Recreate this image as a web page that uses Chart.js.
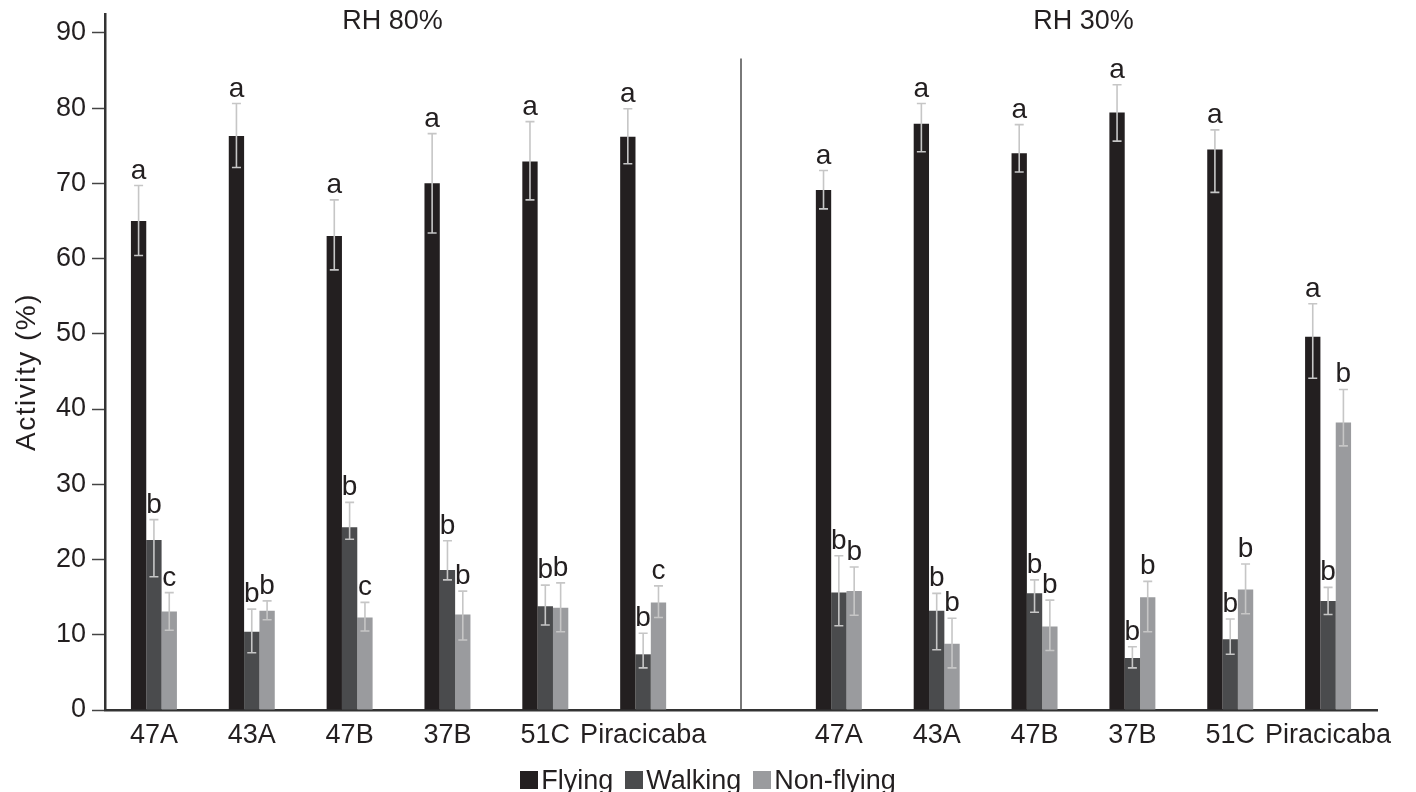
<!DOCTYPE html>
<html>
<head>
<meta charset="utf-8">
<script src="https://cdn.jsdelivr.net/npm/chart.js@4.4.0/dist/chart.umd.min.js"></script>
<style>
  html, body { margin: 0; padding: 0; background: #ffffff; }
  #wrap { position: relative; width: 1416px; height: 792px; }
  #legend { position: absolute; left: 0; width: 1416px; top: 765px; text-align: center;
            font-family: "Liberation Sans", Arial, sans-serif; font-size: 27px; color: #231f20; line-height: 30px; }
  #legend span.item { margin: 0 6px; white-space: nowrap; }
  #legend span.box { display: inline-block; width: 18px; height: 18px; margin-right: 3px; vertical-align: baseline; }
</style>
</head>
<body>
<div id="wrap">
  <canvas id="c" width="1416" height="792"></canvas>
  <div id="legend"></div>
</div>
<script>
// ---------- data ----------
const categories = ['47A','43A','47B','37B','51C','Piracicaba','','47A','43A','47B','37B','51C','Piracicaba'];
const groupTitles = ['RH 80%', 'RH 30%'];
const seriesNames = ['Flying', 'Walking', 'Non-flying'];
const yTitle = 'Activity (%)';

const flying      = [65.0, 76.3, 63.0, 70.0, 72.9, 76.2, null, 69.1, 77.9, 74.0, 79.4, 74.5, 49.6];
const flyingHigh  = [69.7, 80.6, 67.8, 76.6, 78.2, 79.9, null, 71.7, 80.6, 77.8, 83.1, 77.1, 54.0];
const flyingLow   = [60.4, 72.1, 58.5, 63.4, 67.8, 72.6, null, 66.6, 74.2, 71.5, 75.6, 68.8, 44.1];
const flyingLet   = ['a','a','a','a','a','a', null, 'a','a','a','a','a','a'];

const walking     = [22.6, 10.4, 24.3, 18.6, 13.8, 7.4, null, 15.6, 13.2, 15.5, 6.9, 9.4, 14.5];
const walkingHigh = [25.3, 13.4, 27.6, 22.5, 16.6, 10.2, null, 20.5, 15.5, 17.3, 8.4, 12.1, 16.3];
const walkingLow  = [17.7, 7.6, 22.7, 17.3, 11.3, 5.6, null, 11.2, 8.0, 13.0, 5.6, 7.4, 12.7];
const walkingLet  = ['b','b','b','b','b','b', null, 'b','b','b','b','b','b'];

const nonFlying     = [13.1, 13.2, 12.3, 12.7, 13.6, 14.3, null, 15.8, 8.8, 11.1, 15.0, 16.0, 38.2];
const nonFlyingHigh = [15.6, 14.5, 14.3, 15.8, 16.9, 16.5, null, 19.0, 12.2, 14.6, 17.1, 19.4, 42.6];
const nonFlyingLow  = [10.6, 12.0, 10.5, 9.3, 10.4, 12.3, null, 12.6, 5.6, 7.9, 10.4, 12.8, 35.1];
const nonFlyingLet  = ['c','b','c','b','b','c', null, 'b','b','b','b','b','b'];

const yTicks = [0, 10, 20, 30, 40, 50, 60, 70, 80, 90];

// ---------- styles ----------
const FONT = '"Liberation Sans", Arial, sans-serif';
const colors = ['#231f20', '#4a4b4d', '#9a9b9e'];
const errHigh = [flyingHigh, walkingHigh, nonFlyingHigh];
const errLow = [flyingLow, walkingLow, nonFlyingLow];
const letters = [flyingLet, walkingLet, nonFlyingLet];

const errorBarPlugin = {
  id: 'errorBars',
  afterDatasetsDraw(chart) {
    const ctx = chart.ctx;
    const ys = chart.scales.y;
    ctx.save();
    chart.data.datasets.forEach((ds, i) => {
      const meta = chart.getDatasetMeta(i);
      meta.data.forEach((bar, j) => {
        if (ds.data[j] == null) return;
        const x = bar.x;
        const yh = ys.getPixelForValue(errHigh[i][j]);
        const yl = ys.getPixelForValue(errLow[i][j]);
        ctx.strokeStyle = '#c6c6c6';
        ctx.lineWidth = 1.6;
        ctx.beginPath();
        ctx.moveTo(x, yh); ctx.lineTo(x, yl);
        ctx.moveTo(x - 4.5, yh); ctx.lineTo(x + 4.5, yh);
        ctx.moveTo(x - 4.5, yl); ctx.lineTo(x + 4.5, yl);
        ctx.stroke();
        const t = letters[i][j];
        if (t) {
          ctx.fillStyle = '#231f20';
          ctx.font = '28px ' + FONT;
          ctx.textAlign = 'center';
          ctx.textBaseline = 'alphabetic';
          ctx.fillText(t, x, yh - 7);
        }
      });
    });
    ctx.restore();
  }
};

const decorPlugin = {
  id: 'decor',
  afterDraw(chart) {
    const ctx = chart.ctx;
    const xs = chart.scales.x, ys = chart.scales.y;
    ctx.save();
    // separator between the two humidity groups
    const sx = xs.getPixelForValue(6);
    ctx.strokeStyle = '#4d4d4d';
    ctx.lineWidth = 1.5;
    ctx.beginPath();
    ctx.moveTo(sx, ys.getPixelForValue(86.6));
    ctx.lineTo(sx, ys.getPixelForValue(0));
    ctx.stroke();
    // group titles
    ctx.fillStyle = '#231f20';
    ctx.font = '27px ' + FONT;
    ctx.textAlign = 'center';
    ctx.textBaseline = 'middle';
    const g1 = (xs.getPixelForValue(0) + xs.getPixelForValue(5)) / 2;
    const g2 = (xs.getPixelForValue(7) + xs.getPixelForValue(12)) / 2;
    ctx.fillText(groupTitles[0], g1 - 6, 22);
    ctx.fillText(groupTitles[1], g2, 22);
    // y axis title
    ctx.translate(27, (ys.top + ys.bottom) / 2 + 10);
    ctx.rotate(-Math.PI / 2);
    ctx.font = '28px ' + FONT;
    if ('letterSpacing' in ctx) ctx.letterSpacing = '1.5px';
    ctx.fillText(yTitle, 0, 0);
    ctx.restore();
  }
};

new Chart(document.getElementById('c'), {
  type: 'bar',
  data: {
    labels: categories,
    datasets: [
      { label: seriesNames[0], data: flying, backgroundColor: colors[0] },
      { label: seriesNames[1], data: walking, backgroundColor: colors[1] },
      { label: seriesNames[2], data: nonFlying, backgroundColor: colors[2] }
    ]
  },
  options: {
    responsive: false,
    animation: false,
    devicePixelRatio: 1,
    layout: { padding: { left: 0, right: 39, top: 14, bottom: 0 } },
    datasets: { bar: { categoryPercentage: 0.47, barPercentage: 1.0, borderWidth: 0 } },
    plugins: { legend: { display: false }, tooltip: { enabled: false } },
    scales: {
      x: {
        grid: { display: false, drawTicks: false },
        border: { display: true, color: '#333333', width: 2.5 },
        ticks: { color: '#231f20', font: { family: FONT, size: 27 }, padding: 9, maxRotation: 0, autoSkip: false },
        afterFit(scale) { scale.height = 82; scale.paddingLeft = 0; scale.paddingRight = 0; }
      },
      y: {
        min: 0, max: 92.5,
        afterBuildTicks(axis) { axis.ticks = yTicks.map(v => ({ value: v })); },
        grid: { display: true, drawOnChartArea: false, drawTicks: true, tickLength: 13, tickColor: '#444444', tickWidth: 1.5 },
        border: { display: true, color: '#333333', width: 2.5 },
        ticks: { color: '#231f20', font: { family: FONT, size: 27 }, padding: 6 },
        afterFit(scale) { scale.width = 105; scale.paddingTop = 0; scale.paddingBottom = 0; }
      }
    }
  },
  plugins: [errorBarPlugin, decorPlugin]
});

// HTML legend
const lg = document.getElementById('legend');
seriesNames.forEach((n, i) => {
  const it = document.createElement('span');
  it.className = 'item';
  const b = document.createElement('span');
  b.className = 'box';
  b.style.background = colors[i];
  it.appendChild(b);
  it.appendChild(document.createTextNode(n));
  lg.appendChild(it);
});
</script>
</body>
</html>
